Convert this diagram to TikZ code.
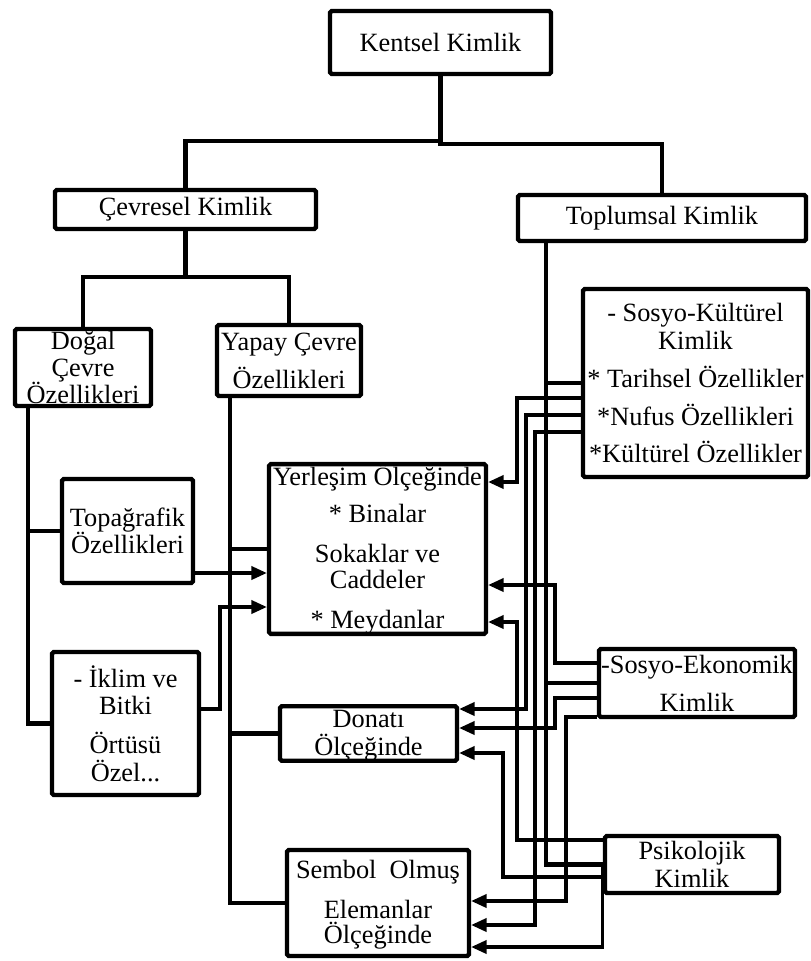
\documentclass[tikz,border=0pt]{standalone}
\usepackage{fontspec}
\setmainfont{Liberation Serif}
\usepackage{tikz}
\usetikzlibrary{arrows.meta}
\newcommand{\pxl}{0.016cm}
\setlength{\lineskiplimit}{-100pt}
\tikzset{
  kbox/.style={draw, line width=2pt, inner sep=0pt, align=center, rounded corners=0.8pt,
               font=\fontsize{12}{12.5}\selectfont},
  thk/.style={line width=2pt},
  wire/.style={line width=1.4pt, -{Triangle[length=7pt,width=6pt]}},
}

\begin{document}
\begin{tikzpicture}[x=\pxl, y=-\pxl]
  \useasboundingbox (0,0) rectangle (811,961);
%---------------- boxes ----------------
  \node[kbox, minimum width=221*\pxl, minimum height=63*\pxl] (kent) at (440.5,42.5) {Kentsel Kimlik};
  \node[kbox, minimum width=261*\pxl, minimum height=39*\pxl] (cev) at (185.5,209.5) {Çevresel Kimlik};
  \node[kbox, minimum width=288*\pxl, minimum height=46*\pxl] (top) at (662,218) {Toplumsal Kimlik};
  \node[kbox, minimum width=136*\pxl, minimum height=77*\pxl] (dog) at (83,367.5) {Doğal\\Çevre\\Özellikleri};
  \node[kbox, minimum width=144*\pxl, minimum height=71*\pxl] (yap) at (289,360.5) {Yapay Çevre\\[4.8pt]Özellikleri};
  \node[kbox, minimum width=131*\pxl, minimum height=104*\pxl] (topo) at (127.5,531) {Topağrafik\\Özellikleri};
  \node[kbox, minimum width=147*\pxl, minimum height=143*\pxl] (ikl) at (125.5,723.5) {- İklim ve\\Bitki\\[5.2pt]Örtüsü\\Özel...};
  \node[kbox, minimum width=217*\pxl, minimum height=168*\pxl] (yer) at (377.5,549)
       {Yerleşim Ölçeğinde\\[4.3pt]{*} Binalar\\[5.7pt]Sokaklar ve\\[-0.7pt]Caddeler\\[5.7pt]{*} Meydanlar};
  \node[kbox, minimum width=177*\pxl, minimum height=49*\pxl] (don) at (368.5,733.5) {\vphantom{Ö}Donatı\\Ölçeğinde};
  \node[kbox, minimum width=182*\pxl, minimum height=106*\pxl] (sem) at (378,903)
       {\vphantom{Ö}Sembol~~Olmuş\\[5.7pt]Elemanlar\\[-1.1pt]Ölçeğinde};
  \node[kbox, minimum width=225*\pxl, minimum height=188*\pxl] (skul) at (695.5,383)
       {- Sosyo-Kültürel\\Kimlik\\[4.8pt]{*} Tarihsel Özellikler\\[4.8pt]{*}Nufus Özellikleri\\[4.3pt]{*}Kültürel Özellikler};
  \node[kbox, minimum width=196*\pxl, minimum height=68*\pxl] (seko) at (697,683) {-Sosyo-Ekonomik\\[4.8pt]Kimlik};
  \node[kbox, minimum width=174*\pxl, minimum height=57*\pxl] (psi) at (692,864.5) {Psikolojik\\Kimlik};
%---------------- hierarchy ----------------
  \draw[thk] (kent.south) -- (kent.south|-0,144) -| (top.north);
  \draw[thk] (kent.south|-0,141) -| (cev.north);
  \draw[thk] (cev.south) -- (cev.south|-0,277) -| (dog.north);
  \draw[thk] (cev.south|-0,277) -| (yap.north);
  % natural environment branch
  \draw[thk] (28,0|-dog.south) |- (ikl.west);
  \draw[thk] (28,0|-topo.west) -- (topo.west);
  \draw[wire] (topo.east|-0,573) -- (yer.west|-0,573);
  \draw[wire] (ikl.east|-0,709) -| (220,607) -- (yer.west|-0,607);
  % built environment branch
  \draw[thk] (230,0|-yap.south) |- (sem.west);
  \draw[thk] (230,0|-yer.west) -- (yer.west);
  \draw[thk] (230,0|-don.west) -- (don.west);
%---------------- social side ----------------
  \draw[thk] (546,0|-top.south) |- (psi.west);
  \draw[thk] (546,0|-skul.west) -- (skul.west);
  \draw[thk] (546,0|-seko.west) -- (seko.west);
  % socio-cultural
  \draw[wire] (skul.west|-0,398) -| (517,482) -- (yer.east|-0,482);
  \draw[wire] (skul.west|-0,415) -| (526,709) -- (don.east|-0,709);
  \draw[wire] (skul.west|-0,432) -| (535,925) -- (sem.east|-0,925);
  % socio-economic
  \draw[wire] (seko.west|-0,663) -| (555,585) -- (yer.east|-0,585);
  \draw[wire] (seko.west|-0,698) -| (555,728) -- (don.east|-0,728);
  \draw[wire] (seko.west|-0,717) -| (566,901) -- (sem.east|-0,901);
  % psychological
  \draw[wire] (psi.west|-0,840) -| (517,622) -- (yer.east|-0,622);
  \draw[wire] (psi.west|-0,877) -| (503,753) -- (don.east|-0,753);
  \draw[wire] (psi.west) |- (sem.east|-0,947);
\end{tikzpicture}
\end{document}
